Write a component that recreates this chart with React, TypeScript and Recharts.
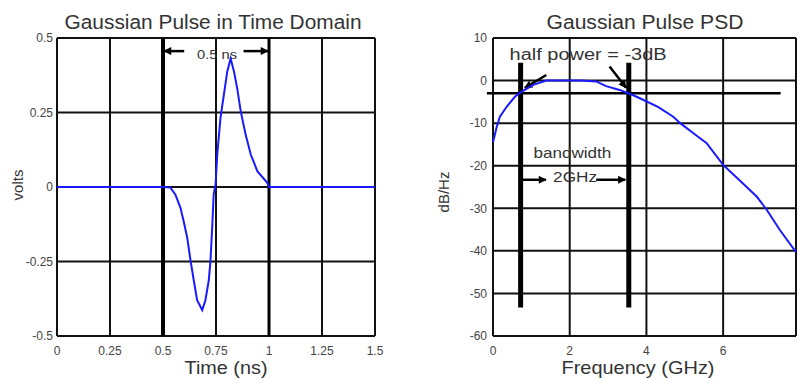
import React from "react";
import {
  LineChart,
  Line,
  XAxis,
  YAxis,
  CartesianGrid,
  ReferenceLine,
} from "recharts";

// time domain pulse
const timeNs = [
  0, 0.503, 0.535, 0.558, 0.582, 0.597, 0.614, 0.63, 0.645, 0.661, 0.685, 0.7,
  0.716, 0.724, 0.732, 0.739, 0.748, 0.756, 0.771, 0.787, 0.803, 0.819, 0.835,
  0.85, 0.867, 0.89, 0.914, 0.945, 0.992, 1.0, 1.5,
];
const volts = [
  0, 0, -0.002, -0.025, -0.069, -0.113, -0.169, -0.247, -0.313, -0.38, -0.413,
  -0.38, -0.313, -0.247, -0.136, -0.025, 0.009, 0.109, 0.231, 0.309, 0.387,
  0.431, 0.387, 0.331, 0.253, 0.175, 0.109, 0.053, 0.014, 0, 0,
];
const timeTicks = [0, 0.25, 0.5, 0.75, 1, 1.25, 1.5];
const voltTicks = [-0.5, -0.25, 0, 0.25, 0.5];

// power spectral density (right plot)
const freqGHz = [
  0, 0.1, 0.18, 0.36, 0.57, 0.75, 1.05, 1.39, 1.8, 2.3, 2.69, 2.95, 3.3, 3.64,
  3.83, 4.3, 4.7, 4.88, 5.2, 5.57, 6.0, 6.4, 6.88, 7.14, 7.48, 7.9,
];
const psdDb = [
  -14.5, -10.8, -8.5, -6.1, -3.8, -2.6, -1.0, 0, 0, 0, -0.2, -1.3, -2.2, -3.4,
  -4.15, -6.2, -8.5, -10, -12.2, -14.7, -19.8, -23.2, -27.3, -30.4, -35.1,
  -40.3,
];
const freqTicks = [0, 2, 4, 6];
const dbTicks = [10, 0, -10, -20, -30, -40, -50, -60];

// annotation markers
const halfPowerDb = -3;
const bandEdges = [0.72, 3.54];

const pulseData = timeNs.map((t, i) => ({ t, v: volts[i] }));
const psdData = freqGHz.map((f, i) => ({ f, db: psdDb[i] }));

const tickStyle = { fill: "#444", fontSize: 12 };
const textColor = "#333";

const arrowShape = (id: string) => (p: any) =>
  (
    <line
      x1={p.x1}
      y1={p.y1}
      x2={p.x2}
      y2={p.y2}
      stroke="#000"
      strokeWidth={2.5}
      markerEnd={`url(#${id})`}
    />
  );

const textShape = (txt: string, size: number, len?: number) => (p: any) =>
  (
    <text
      x={(p.x1 + p.x2) / 2}
      y={p.y1}
      textAnchor="middle"
      fontSize={size}
      fill={textColor}
      textLength={len}
      lengthAdjust="spacingAndGlyphs"
    >
      {txt}
    </text>
  );

const ArrowDefs = ({ id }: { id: string }) => (
  <defs>
    <marker
      id={id}
      viewBox="0 0 10 10"
      refX="9"
      refY="5"
      markerUnits="userSpaceOnUse"
      markerWidth="10"
      markerHeight="8"
      orient="auto"
    >
      <path d="M0,0 L10,5 L0,10 z" fill="#000" />
    </marker>
  </defs>
);

const TimeChart = () => (
  <LineChart
    width={400}
    height={380}
    data={pulseData}
    margin={{ top: 38, right: 25, left: 0, bottom: 0 }}
  >
    <ArrowDefs id="arrTime" />
    <CartesianGrid stroke="#111" strokeWidth={2} />
    <XAxis
      dataKey="t"
      type="number"
      domain={[0, 1.5]}
      ticks={timeTicks}
      axisLine={false}
      tickLine={false}
      tick={tickStyle}
      tickSize={0}
      tickMargin={10}
      height={44}
    />
    <YAxis
      type="number"
      domain={[-0.5, 0.5]}
      ticks={voltTicks}
      axisLine={false}
      tickLine={false}
      tick={tickStyle}
      tickSize={0}
      tickMargin={4}
      width={57}
    />
    <ReferenceLine x={0.5} stroke="#000" strokeWidth={4} />
    <ReferenceLine x={1} stroke="#000" strokeWidth={3} />
    <ReferenceLine
      segment={[{ x: 0.6, y: 0.456 }, { x: 0.505, y: 0.456 }]}
      shape={arrowShape("arrTime")}
    />
    <ReferenceLine
      segment={[{ x: 0.88, y: 0.456 }, { x: 0.995, y: 0.456 }]}
      shape={arrowShape("arrTime")}
    />
    <ReferenceLine
      segment={[{ x: 0.755, y: 0.43 }, { x: 0.755, y: 0.43 }]}
      shape={textShape("0.5 ns", 13, 40)}
    />
    <Line
      type="linear"
      dataKey="v"
      stroke="#1a1aff"
      strokeWidth={2}
      dot={false}
      isAnimationActive={false}
    />
    <text
      x={213}
      y={29}
      textAnchor="middle"
      fontSize={20}
      fill={textColor}
      textLength={297}
      lengthAdjust="spacingAndGlyphs"
    >
      Gaussian Pulse in Time Domain
    </text>
    <text
      x={226}
      y={374}
      textAnchor="middle"
      fontSize={19}
      fill={textColor}
      textLength={83}
      lengthAdjust="spacingAndGlyphs"
    >
      Time (ns)
    </text>
    <text
      x={19}
      y={185}
      textAnchor="middle"
      fontSize={15}
      fill={textColor}
      transform="rotate(-90 19 185)"
      dominantBaseline="middle"
    >
      volts
    </text>
  </LineChart>
);

const PsdChart = () => (
  <LineChart
    width={397}
    height={380}
    data={psdData}
    margin={{ top: 38, right: 1, left: 0, bottom: 0 }}
  >
    <ArrowDefs id="arrPsd" />
    <CartesianGrid stroke="#111" strokeWidth={2} />
    <XAxis
      dataKey="f"
      type="number"
      domain={[0, 7.9]}
      ticks={freqTicks}
      axisLine={false}
      tickLine={false}
      tick={tickStyle}
      tickSize={0}
      tickMargin={10}
      height={44}
    />
    <YAxis
      type="number"
      domain={[-60, 10]}
      ticks={dbTicks}
      axisLine={false}
      tickLine={false}
      tick={tickStyle}
      tickSize={0}
      tickMargin={6}
      width={93}
    />
    <ReferenceLine
      segment={[{ x: -0.16, y: halfPowerDb }, { x: 7.5, y: halfPowerDb }]}
      stroke="#000"
      strokeWidth={2.5}
      ifOverflow="visible"
    />
    {bandEdges.map((f) => (
      <ReferenceLine
        key={f}
        segment={[{ x: f, y: 4.2 }, { x: f, y: -53.3 }]}
        stroke="#000"
        strokeWidth={5}
      />
    ))}
    <ReferenceLine
      segment={[{ x: 1.39, y: 1.3 }, { x: 0.83, y: -1.7 }]}
      shape={arrowShape("arrPsd")}
    />
    <ReferenceLine
      segment={[{ x: 3.04, y: 3.3 }, { x: 3.47, y: -1.7 }]}
      shape={arrowShape("arrPsd")}
    />
    <ReferenceLine
      segment={[{ x: 0.74, y: -23.3 }, { x: 1.38, y: -23.3 }]}
      shape={arrowShape("arrPsd")}
    />
    <ReferenceLine
      segment={[{ x: 2.69, y: -23.3 }, { x: 3.45, y: -23.3 }]}
      shape={arrowShape("arrPsd")}
    />
    <ReferenceLine
      segment={[{ x: 2.48, y: 4.8 }, { x: 2.48, y: 4.8 }]}
      shape={textShape("half power = -3dB", 16, 157)}
    />
    <ReferenceLine
      segment={[{ x: 2.07, y: -18.2 }, { x: 2.07, y: -18.2 }]}
      shape={textShape("bandwidth", 15, 78)}
    />
    <ReferenceLine
      segment={[{ x: 2.14, y: -23.8 }, { x: 2.14, y: -23.8 }]}
      shape={textShape("2GHz", 15, 44)}
    />
    <Line
      type="linear"
      dataKey="db"
      stroke="#1a1aff"
      strokeWidth={2}
      dot={false}
      isAnimationActive={false}
    />
    <text
      x={245}
      y={29}
      textAnchor="middle"
      fontSize={20}
      fill={textColor}
      textLength={197}
      lengthAdjust="spacingAndGlyphs"
    >
      Gaussian Pulse PSD
    </text>
    <text
      x={238}
      y={374}
      textAnchor="middle"
      fontSize={19}
      fill={textColor}
      textLength={153}
      lengthAdjust="spacingAndGlyphs"
    >
      Frequency (GHz)
    </text>
    <text
      x={45}
      y={192}
      textAnchor="middle"
      fontSize={15}
      fill={textColor}
      transform="rotate(-90 45 192)"
      dominantBaseline="middle"
    >
      dB/Hz
    </text>
  </LineChart>
);

export default function App() {
  return (
    <div
      style={{
        position: "absolute",
        left: 0,
        top: 0,
        width: 797,
        height: 380,
        display: "flex",
        background: "#fff",
        fontFamily: '"Liberation Sans", Arial, sans-serif',
      }}
    >
      <TimeChart />
      <PsdChart />
    </div>
  );
}
